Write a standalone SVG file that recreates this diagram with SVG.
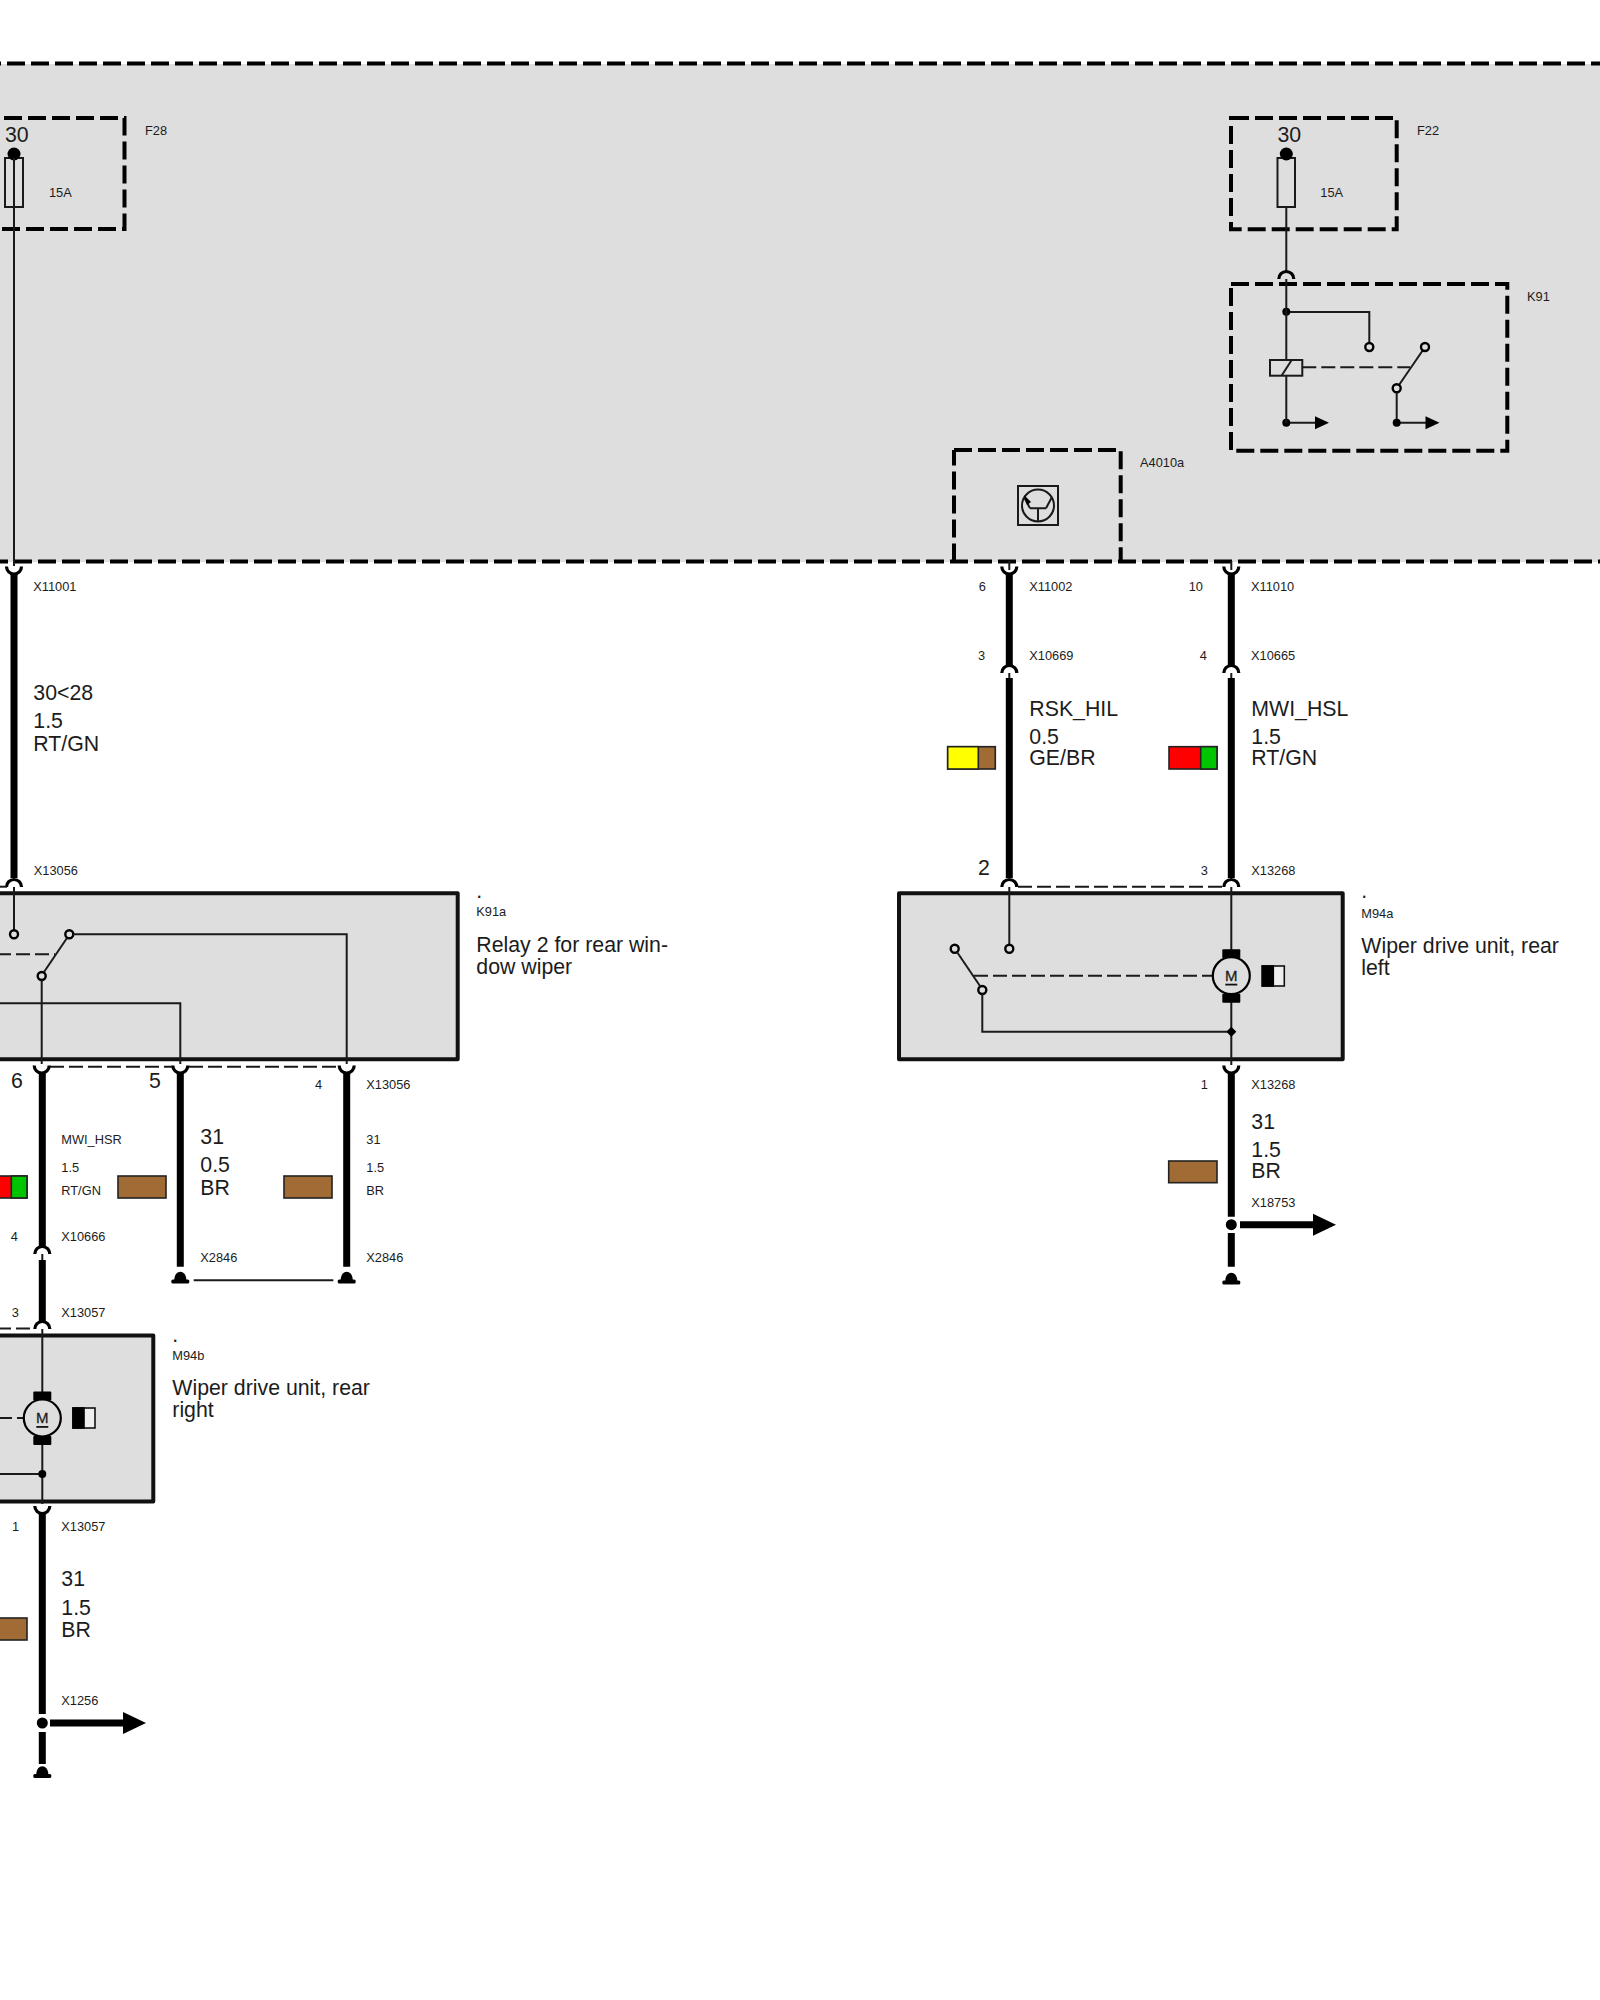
<svg xmlns="http://www.w3.org/2000/svg" width="1600" height="2000" viewBox="0 0 1600 2000">
<style>
text{font-family:"Liberation Sans",Arial,sans-serif;fill:#1c1c1c}
.s{font-size:12.8px}
.m{font-size:21.3px}
.dash{fill:none;stroke:#000;stroke-width:4;stroke-dasharray:18 6}
.box{fill:#dedede;stroke:#111;stroke-width:4;stroke-linejoin:round}
.thin{fill:none;stroke:#1a1a1a;stroke-width:2}
.dsh{fill:none;stroke:#1a1a1a;stroke-width:2;stroke-dasharray:14 5}
.thick{fill:none;stroke:#000;stroke-width:7}
.con{fill:none;stroke:#000;stroke-width:3.2}
.pin{fill:#dedede;stroke:#000;stroke-width:2.4}
.sw{stroke:#222;stroke-width:1.6}
.br{fill:#a16b36}.rd{fill:#f00}.gn{fill:#00c400}.ye{fill:#ff0}
</style>
<defs>
<path id="hat" class="con" d="M-7.5 8A7.5 7.5 0 0 1 7.5 8"/>
<path id="cup" class="con" d="M-7.5 0A7.5 7.5 0 0 0 7.5 0"/>
<g id="gnd"><path d="M-6 8C-6 -3 6 -3 6 8Z"/><rect x="-9" y="7.500" width="18" height="4" rx="1.500"/></g>
<g id="motor">
<rect x="-9" y="-26.5" width="18" height="9" rx="1"/>
<rect x="-9" y="18" width="18" height="9" rx="1"/>
<circle r="18.5" fill="#dedede" stroke="#000" stroke-width="2.2"/>
<text x="0" y="5" text-anchor="middle" font-size="15px" stroke="#1c1c1c" stroke-width=".3">M</text>
<rect x="-6" y="8" width="12" height="1.8" fill="#111"/>
</g>
<g id="mag"><rect x="0" y="0" width="22" height="20" fill="#eee" stroke="#111" stroke-width="1.6"/><rect x="0" y="0" width="11" height="20" fill="#000" stroke="#000" stroke-width="1.6"/></g>
<path id="tip" d="M0 -6.5L14 0L0 6.5Z"/>
<path id="bigtip" d="M0 -11L23 0L0 11Z"/>
</defs>
<rect width="1600" height="2000" fill="#fff"/>

<g id="zone">
<rect x="0" y="64" width="1600" height="498" fill="#dedede"/>
<path class="dash" d="M-17 63.5H1600M-10 561.5H1600"/>
</g>

<g id="F28">
<path class="dash" d="M-20 118H124.500V229H-20"/>
<rect x="5" y="158" width="18" height="49" fill="none" stroke="#1a1a1a" stroke-width="2"/>
<circle cx="14" cy="154" r="6.500"/>
<text class="m" x="5" y="141.700">30</text>
<text class="s" x="49" y="197">15A</text>
<text class="s" x="145" y="135">F28</text>
</g>

<g id="F22">
<path class="dash" d="M1231 118H1396.700V229.300H1231Z"/>
<rect x="1277.500" y="158" width="17.500" height="49" fill="none" stroke="#1a1a1a" stroke-width="2"/>
<circle cx="1286.300" cy="154" r="6.500"/>
<text class="m" x="1277.500" y="141.700">30</text>
<text class="s" x="1320.300" y="197">15A</text>
<text class="s" x="1417" y="135">F22</text>
</g>

<g id="K91">
<path class="dash" d="M1231 284H1507.300V450.700H1231Z"/>
<path class="thin" d="M1286.300 312H1369.300V343"/>
<circle cx="1286.300" cy="311.700" r="4"/>
<circle class="pin" cx="1369.300" cy="347" r="4"/>
<rect x="1270" y="360" width="32.300" height="15.700" fill="none" stroke="#1a1a1a" stroke-width="2"/>
<path class="thin" d="M1281.700 375.500L1291.700 360"/>
<path class="dsh" d="M1302.300 367.300H1410"/>
<path class="thin" d="M1423 350L1399 385"/>
<circle class="pin" cx="1425" cy="347" r="4"/>
<circle class="pin" cx="1396.700" cy="388.300" r="4"/>
<path class="thin" d="M1396.700 392.500V422.700"/>
<path class="thin" d="M1286.300 422.700H1316M1396.700 422.700H1426"/>
<circle cx="1286.300" cy="422.700" r="4"/>
<circle cx="1396.700" cy="422.700" r="4"/>
<use href="#tip" x="1315" y="422.700"/>
<use href="#tip" x="1425.500" y="422.700"/>
<text class="s" x="1527" y="301">K91</text>
</g>

<g id="A4010a">
<path class="dash" d="M954 450H1120.700V561.500M954 561.500V450"/>
<rect x="1018" y="486" width="40" height="39" fill="none" stroke="#1a1a1a" stroke-width="2"/>
<circle cx="1038" cy="505.500" r="16" fill="none" stroke="#1a1a1a" stroke-width="2"/>
<path class="thin" d="M1030 508.300H1046M1038 508.300V521M1030 508.300L1024 497M1046 508.300L1052 497"/>
<path d="M1024 495L1031 502L1027 505Z"/>
<text class="s" x="1140" y="466.700">A4010a</text>
</g>

<g id="K91a">
<rect class="box" x="-20" y="893.300" width="477.700" height="166"/>
<path class="thin" d="M14 887V930"/>
<circle class="pin" cx="14" cy="934.300" r="4"/>
<path class="dsh" d="M-3 954.300H55"/>
<path class="thin" d="M67 938L44 972"/>
<circle class="pin" cx="69.300" cy="934.300" r="4"/>
<circle class="pin" cx="41.700" cy="976" r="4"/>
<path class="thin" d="M73.500 934.300H346.700V1064M41.700 980V1064M-10 1003.300H180.300V1064"/>
<text x="476.300" y="898" class="m">.</text>
<text x="476.300" y="915.500" class="s">K91a</text>
<text x="476.300" y="952" class="m">Relay 2 for rear win-</text>
<text x="476.300" y="973.500" class="m">dow wiper</text>
</g>

<g id="M94a">
<rect class="box" x="899" y="893.300" width="443.700" height="166"/>
<path class="thin" d="M1009.300 887V944.500"/>
<circle class="pin" cx="1009.300" cy="948.700" r="4"/>
<circle class="pin" cx="954.700" cy="948.700" r="4"/>
<circle class="pin" cx="982.300" cy="990" r="4"/>
<path class="thin" d="M957 952L980 986"/>
<path class="dsh" d="M974 975.700H1213"/>
<path class="thin" d="M1231.300 887V950M1231.300 1002V1065M982.300 994V1031.700H1231.300"/>
<use href="#motor" x="1231.300" y="975.700"/>
<use href="#mag" x="1262.300" y="966"/>
<path d="M1231.300 1026.700L1236.300 1031.700L1231.300 1036.700L1226.300 1031.700Z"/>
<text x="1361.300" y="898" class="m">.</text>
<text x="1361.300" y="918.300" class="s">M94a</text>
<text x="1361.300" y="952.700" class="m">Wiper drive unit, rear</text>
<text x="1361.300" y="975" class="m">left</text>
</g>

<g id="M94b">
<rect class="box" x="-20" y="1335.500" width="173.300" height="166"/>
<path class="thin" d="M42.300 1329V1392M42.300 1444V1504M-10 1474H42.300"/>
<path class="dsh" d="M-2 1418H23"/>
<use href="#motor" x="42.300" y="1418"/>
<use href="#mag" x="73" y="1408"/>
<circle cx="42.300" cy="1474" r="4"/>
<text x="172.300" y="1342" class="m">.</text>
<text x="172.300" y="1359.500" class="s">M94b</text>
<text x="172.300" y="1395" class="m">Wiper drive unit, rear</text>
<text x="172.300" y="1417" class="m">right</text>
</g>

<g id="connectors">
<path class="thin" d="M14 158V566"/>
<path class="thin" d="M1286.300 207V272M1286.300 279V312V360M1286.300 376V422.700"/>
<use href="#hat" x="1286.300" y="271"/>
<path class="thick" d="M14 574V878"/>
<use href="#cup" x="14" y="566.500"/>
<use href="#hat" x="14" y="879"/>

<path class="thin" d="M1009.300 561V570M1231.300 561V570M1009.300 673V679M1231.300 673V679"/>
<path class="thick" d="M1009.300 574V666M1009.300 678V878M1231.300 574V666M1231.300 678V878"/>
<use href="#cup" x="1009.300" y="566.500"/>
<use href="#cup" x="1231.300" y="566.500"/>
<use href="#hat" x="1009.300" y="665"/>
<use href="#hat" x="1231.300" y="665"/>
<use href="#hat" x="1009.300" y="879"/>
<use href="#hat" x="1231.300" y="879"/>
<path class="dsh" d="M1018 886.700H1223"/>
<path class="dsh" d="M-4 886.700H7"/>

<use href="#cup" x="1231.300" y="1065.500"/>
<path class="thick" d="M1231.300 1073V1216.700M1231.300 1233V1266.700"/>
<circle cx="1231.300" cy="1224.700" r="5.500"/>
<path class="thick" d="M1240 1224.700H1314"/>
<use href="#bigtip" x="1313" y="1224.700"/>
<use href="#gnd" x="1231.300" y="1273"/>

<use href="#cup" x="41.700" y="1065.500"/>
<use href="#cup" x="180.300" y="1065.500"/>
<use href="#cup" x="346.700" y="1065.500"/>
<path class="dsh" d="M50 1066.700H172M189 1066.700H339"/>
<path class="thick" d="M42.300 1072V1248M42.300 1260V1321M180.300 1072V1266.700M346.700 1072V1266.700"/>
<path class="thin" d="M42.300 1254V1260"/>
<use href="#hat" x="42.300" y="1246"/>
<use href="#hat" x="42.300" y="1321"/>
<use href="#gnd" x="180.300" y="1272"/>
<use href="#gnd" x="346.700" y="1272"/>
<path class="thin" d="M193.700 1280.300H333.300"/>
<path class="dsh" d="M-3 1328.500H33"/>

<use href="#cup" x="42.300" y="1506"/>
<path class="thick" d="M42.300 1513V1714M42.300 1732V1764"/>
<circle cx="42.300" cy="1723" r="5.500"/>
<path class="thick" d="M50 1723H124"/>
<use href="#bigtip" x="123" y="1723"/>
<use href="#gnd" x="42.300" y="1766.500"/>
</g>

<g id="wire-labels">
<rect class="br sw" x="947.700" y="746.700" width="47.600" height="22.300"/>
<rect class="ye sw" x="947.700" y="746.700" width="30.600" height="22.300"/>
<rect class="rd sw" x="1169" y="746.700" width="48" height="22.300"/>
<rect class="gn sw" x="1200.700" y="746.700" width="16.300" height="22.300"/>
<rect class="br sw" x="1168.700" y="1161" width="48.300" height="21.700"/>
<rect class="rd sw" x="-21" y="1176" width="48" height="22"/>
<rect class="gn sw" x="11.300" y="1176" width="15.700" height="22"/>
<rect class="br sw" x="118" y="1176" width="48" height="22"/>
<rect class="br sw" x="284" y="1176" width="48" height="22"/>
<rect class="br sw" x="-21" y="1618" width="48" height="22"/>

<text class="s" x="33.300" y="591">X11001</text>
<text class="m" x="33.300" y="700">30&lt;28</text>
<text class="m" x="33.300" y="728">1.5</text>
<text class="m" x="33.300" y="751">RT/GN</text>
<text class="s" x="33.800" y="875">X13056</text>

<text class="s" x="978.700" y="591">6</text>
<text class="s" x="1029.300" y="591">X11002</text>
<text class="s" x="1188.700" y="591">10</text>
<text class="s" x="1251" y="591">X11010</text>
<text class="s" x="978" y="660">3</text>
<text class="s" x="1029.300" y="660">X10669</text>
<text class="s" x="1199.700" y="660">4</text>
<text class="s" x="1251" y="660">X10665</text>
<text class="m" x="1029.300" y="715.700">RSK_HIL</text>
<text class="m" x="1029.300" y="744">0.5</text>
<text class="m" x="1029.300" y="765">GE/BR</text>
<text class="m" x="1251.300" y="715.700">MWI_HSL</text>
<text class="m" x="1251.300" y="744">1.5</text>
<text class="m" x="1251.300" y="765">RT/GN</text>
<text class="m" x="978" y="875">2</text>
<text class="s" x="1200.700" y="875">3</text>
<text class="s" x="1251.300" y="875">X13268</text>
<text class="s" x="1200.700" y="1089">1</text>
<text class="s" x="1251.300" y="1089">X13268</text>
<text class="m" x="1251.300" y="1129">31</text>
<text class="m" x="1251.300" y="1156.700">1.5</text>
<text class="m" x="1251.300" y="1178.300">BR</text>
<text class="s" x="1251.300" y="1206.700">X18753</text>

<text class="m" x="11" y="1088.300">6</text>
<text class="m" x="149" y="1088.300">5</text>
<text class="s" x="315" y="1089">4</text>
<text class="s" x="366.300" y="1089">X13056</text>
<text class="s" x="61.300" y="1144">MWI_HSR</text>
<text class="s" x="61.300" y="1171.700">1.5</text>
<text class="s" x="61.300" y="1195">RT/GN</text>
<text class="m" x="200.300" y="1144">31</text>
<text class="m" x="200.300" y="1171.700">0.5</text>
<text class="m" x="200.300" y="1195">BR</text>
<text class="s" x="366.300" y="1144">31</text>
<text class="s" x="366.300" y="1171.700">1.5</text>
<text class="s" x="366.300" y="1195">BR</text>
<text class="s" x="10.700" y="1240.700">4</text>
<text class="s" x="61.300" y="1240.700">X10666</text>
<text class="s" x="200.300" y="1261.700">X2846</text>
<text class="s" x="366.300" y="1261.700">X2846</text>
<text class="s" x="11.700" y="1317">3</text>
<text class="s" x="61.300" y="1317">X13057</text>
<text class="s" x="12" y="1531">1</text>
<text class="s" x="61.300" y="1531">X13057</text>
<text class="m" x="61.300" y="1586">31</text>
<text class="m" x="61.300" y="1614.500">1.5</text>
<text class="m" x="61.300" y="1636.500">BR</text>
<text class="s" x="61.300" y="1704.500">X1256</text>
</g>
</svg>
